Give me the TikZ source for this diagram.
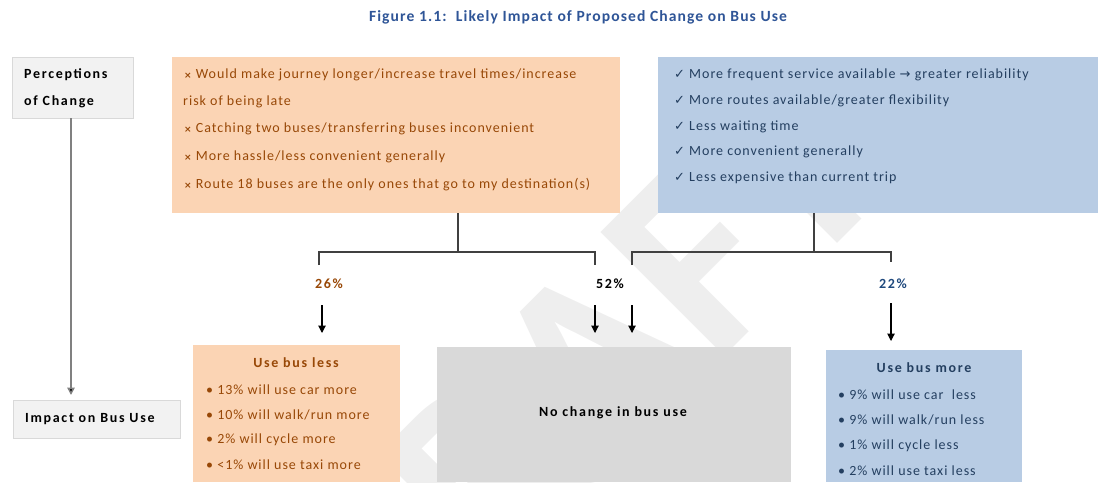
\documentclass[tikz,border=0pt]{standalone}
\usepackage{fontspec}
\setmainfont{Carlito}[LetterSpace=7]
\newfontfamily\bw{Carlito}[LetterSpace=12]
\newfontfamily\wmf{Carlito}
\newfontfamily\symfont{DejaVu Sans}
\usetikzlibrary{arrows.meta}
\definecolor{ofill}{HTML}{FBD4B4}
\definecolor{otext}{HTML}{984807}
\definecolor{bfill}{HTML}{B8CCE4}
\definecolor{btext}{HTML}{243F60}
\definecolor{pctblue}{HTML}{1F497D}
\definecolor{titleblue}{HTML}{2F5597}
\definecolor{lfill}{HTML}{F2F2F2}
\definecolor{lborder}{HTML}{D9D9D9}
\definecolor{gfill}{HTML}{D9D9D9}
\definecolor{wmark}{HTML}{EEEEEE}
\definecolor{conn}{HTML}{404040}
\tikzset{
  box/.style={rectangle, anchor=north west, inner sep=0pt, outer sep=0pt},
  lbox/.style={box, fill=lfill, draw=lborder, line width=0.8pt},
  txt/.style={anchor=west, inner sep=0pt, font=\fontsize{14}{16}\selectfont},
  btxtfont/.style={font=\bw\fontsize{14}{16}\selectfont\bfseries},
  otxt/.style={txt, text=otext},
  btxt/.style={txt, text=btext},
  lbl/.style={anchor=west, inner sep=0pt, btxtfont},
  ttl/.style={anchor=center, inner sep=0pt, btxtfont},
  pct/.style={anchor=center, inner sep=0pt, btxtfont},
  line/.style={draw=conn, line width=1.2pt},
  arr/.style={draw=black, line width=1.1pt, -{Triangle[width=7.5pt,length=7.5pt]}},
}
\newcommand{\xm}{{\symfont\fontsize{9}{10}\selectfont\bfseries ×}}
\newcommand{\ck}{{\symfont\fontsize{13}{14}\selectfont ✓}}
\newcommand{\ar}{{\symfont\fontsize{13}{14}\selectfont →}}
\begin{document}
\begin{tikzpicture}[x=1pt,y=-1pt]
\useasboundingbox (0,0) rectangle (1110,482);
% watermark
\node[rotate=45, text=wmark, inner sep=0pt, font=\wmf\fontsize{270}{270}\selectfont\bfseries] (wm) at (572,385) {DRAFT};
% title
\node[anchor=center, inner sep=0pt, text=titleblue, font=\fontsize{15.6}{18}\selectfont\bfseries] (title) at (578,17) {Figure 1.1:\ \ Likely Impact of Proposed Change on Bus Use};
% left labels
\node[lbox, minimum width=121, minimum height=61] (perc) at (12,57) {};
\node[lbl] (percA) at (24,75) {Perceptions};
\node[lbl] (percB) at (24,102) {of Change};
\node[lbox, minimum width=167, minimum height=38] (imp) at (13,400) {};
\node[lbl] (impT) at (25,419) {Impact on Bus Use};
\draw[line width=1.5pt, draw=gray, -{Triangle[width=7.5pt,length=7.5pt,fill=black]}] (perc.south -| 71,0) -- (71,395);
% orange box
\node[box, fill=ofill, minimum width=448, minimum height=156] (obox) at (172,57) {};
\node[otxt] (o1) at (184,75) {\xm\ Would make journey longer/increase travel times/increase};
\node[otxt] (o1b) at (183,102) {risk of being late};
\node[otxt] (o2) at (184,129) {\xm\ Catching two buses/transferring buses inconvenient};
\node[otxt] (o3) at (184,157) {\xm\ More hassle/less convenient generally};
\node[otxt] (o4) at (184,185) {\xm\ Route 18 buses are the only ones that go to my destination(s)};
% blue box
\node[box, fill=bfill, minimum width=440, minimum height=156] (bbox) at (658,57) {};
\node[btxt] (b1) at (674,75) {\ck\ More frequent service available \ar\ greater reliability};
\node[btxt] (b2) at (674,101) {\ck\ More routes available/greater flexibility};
\node[btxt] (b3) at (674,127) {\ck\ Less waiting time};
\node[btxt] (b4) at (674,152) {\ck\ More convenient generally};
\node[btxt] (b5) at (674,178) {\ck\ Less expensive than current trip};
% connectors
\coordinate (oj) at (458,252);
\coordinate (bj) at (814,252);
\coordinate (oL) at (319,265);
\coordinate (oR) at (595,265);
\coordinate (bL) at (632,265);
\coordinate (bR) at (891,262);
\draw[line] (obox.south -| oj) -- (oj);
\draw[line] (oL) |- (oj) -| (oR);
\draw[line] (bbox.south -| bj) -- (bj);
\draw[line] (bL) |- (bj) -| (bR);
% percentages
\node[pct, text=otext] (p26) at (329,284) {26\%};
\node[pct, text=black] (p52) at (610,284) {52\%};
\node[pct, text=pctblue] (p22) at (893,284) {22\%};
% bottom boxes
\node[box, fill=ofill, minimum width=207, minimum height=137] (less) at (193,345) {};
\node[box, fill=gfill, minimum width=354, minimum height=135] (none) at (437,347) {};
\node[box, fill=bfill, minimum width=196, minimum height=132] (more) at (826,350) {};
% arrows
\coordinate (a1s) at (322,305);
\coordinate (a2s) at (595,305);
\coordinate (a3s) at (632,305);
\coordinate (a4s) at (891,303);
\draw[arr] (a1s) -- (a1s |- 0,333);
\draw[arr] (a2s) -- (a2s |- 0,333);
\draw[arr] (a3s) -- (a3s |- 0,333);
\draw[arr] (a4s) -- (a4s |- 0,341);
% texts bottom
\node[ttl, text=otext] (lessT) at (296,363) {Use bus less};
\node[otxt] (l1) at (206,390) {•\ 13\% will use car more};
\node[otxt] (l2) at (206,415) {•\ 10\% will walk/run more};
\node[otxt] (l3) at (206,440) {•\ 2\% will cycle more};
\node[otxt] (l4) at (206,465) {•\ <1\% will use taxi more};
\node[ttl, text=black] (noneT) at (613,413) {No change in bus use};
\node[ttl, text=btext] (moreT) at (924,368) {Use bus more};
\node[btxt] (m1) at (838,395) {•\ 9\% will use car\ \ less};
\node[btxt] (m2) at (838,420) {•\ 9\% will walk/run less};
\node[btxt] (m3) at (838,446) {•\ 1\% will cycle less};
\node[btxt] (m4) at (838,471) {•\ 2\% will use taxi less};
\end{tikzpicture}
\end{document}
